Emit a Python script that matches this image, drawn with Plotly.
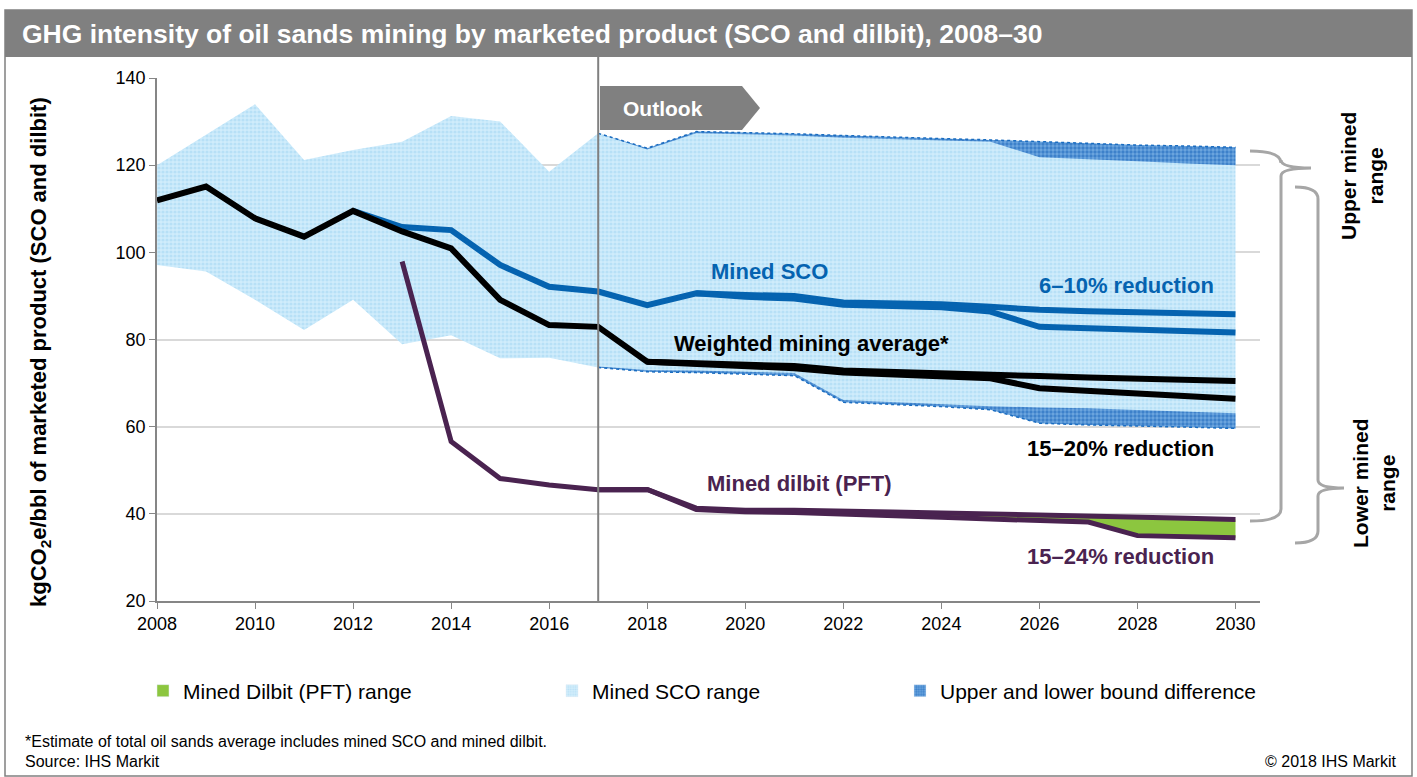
import plotly.graph_objects as go

# ---------------- data ----------------
years = list(range(2008, 2031))

# Mined SCO range (light blue band): upper and lower edges
sco_range_max = [120.0, 127.0, 134.0, 121.2, 123.5, 125.4, 131.3, 130.0, 118.5, 127.3, 123.9, 127.7,
                 127.5, 127.2, 126.8, 126.4, 126.1, 125.8, 125.4, 124.9, 124.6, 124.4, 124.1]
sco_range_min = [97.1, 95.6, 89.1, 82.2, 89.1, 78.9, 81.0, 75.7, 75.8, 73.6, 72.6, 72.4,
                 72.1, 71.7, 65.6, 65.1, 64.6, 63.9, 60.8, 60.4, 60.2, 59.9, 59.6]
# alternative bounds (upper/lower bound difference, outlook only)
sco_range_max_alt = [None] * 9 + [127.3, 123.6, 127.3, 127.1, 126.8, 126.3, 126.0, 125.7, 125.4,
                                  121.8, 121.4, 120.9, 120.4, 120.0]
sco_range_min_alt = [None] * 9 + [73.8, 73.0, 72.9, 72.6, 72.3, 66.1, 65.6, 65.1, 64.7,
                                  64.4, 64.2, 63.8, 63.4, 63.1]

mined_sco = [None] * 4 + [109.5, 105.8, 105.1, 97.1, 92.1, 91.0, 87.9, 90.6, 90.2, 90.0, 88.5,
                          88.3, 88.1, 87.5, 86.8, 86.5, 86.2, 85.9, 85.8]
mined_sco_low = [None] * 11 + [90.6, 89.8, 89.4, 88.0, 87.7, 87.4, 86.4, 82.9, 82.6, 82.2, 81.9, 81.6]

weighted = [111.9, 115.1, 107.8, 103.6, 109.5, 104.8, 100.9, 89.1, 83.3, 82.9, 74.9, 74.5,
            74.2, 73.9, 72.9, 72.5, 72.3, 72.0, 71.6, 71.3, 71.1, 70.8, 70.5]
weighted_low = [None] * 10 + [74.9, 74.4, 74.0, 73.4, 72.4, 71.9, 71.6, 71.1, 68.8, 68.2, 67.5, 67.0, 66.4]

dilbit = [None] * 5 + [97.9, 56.6, 48.1, 46.6, 45.5, 45.6, 41.3, 40.8, 40.8, 40.7, 40.4, 40.2,
                       40.0, 39.8, 39.5, 39.2, 39.0, 38.7]
dilbit_low = [None] * 9 + [45.5, 45.6, 41.0, 40.5, 40.3, 40.0, 39.6, 39.2, 38.8, 38.5, 38.1,
                           35.0, 34.8, 34.5]

y_ticks = [20, 40, 60, 80, 100, 120, 140]
x_ticks = list(range(2008, 2031, 2))
legend_names = ["Mined Dilbit (PFT) range", "Mined SCO range", "Upper and lower bound difference"]

# ---------------- styles ----------------
BLUE = "#0563b0"
PURPLE = "#4a2350"
GREEN = "#8cc63f"
GRAY = "#808080"
BRACE = "#a6a6a6"
FONT = "Liberation Sans, Arial, sans-serif"

W, H = 1417, 777
L, R, T, B = 157, 157, 78, 176
PW, PH = W - L - R, H - T - B


def px(xp):
    return (xp - L) / PW


def py(yp):
    return (H - B - yp) / PH


def seg(xs, ys):
    pts = [(a, b) for a, b in zip(xs, ys) if b is not None]
    return [p[0] for p in pts], [p[1] for p in pts]


light_pat = dict(shape=".", fgcolor="#9ed3f1", bgcolor="#d0ecfb", size=4, solidity=0.5)
dark_pat = dict(shape=".", fgcolor="#0b5cb5", bgcolor="#6ea7df", size=4, solidity=0.55)

fig = go.Figure()

# light blue SCO range
x1, y1 = seg(years, sco_range_min)
x2, y2 = seg(years, sco_range_max)
fig.add_trace(go.Scatter(x=x1, y=y1, mode="lines", line=dict(width=0), showlegend=False, hoverinfo="skip"))
fig.add_trace(go.Scatter(x=x2, y=y2, mode="lines", line=dict(width=0), fill="tonexty",
                         fillcolor="#c6e7f9", fillpattern=light_pat, showlegend=False, hoverinfo="skip"))

# dark band (upper)
xa, ya = seg(years, sco_range_max_alt)
xb, yb = seg(years, sco_range_max)
xb, yb = xb[9:], yb[9:]
fig.add_trace(go.Scatter(x=xa, y=ya, mode="lines", line=dict(width=0), showlegend=False, hoverinfo="skip"))
fig.add_trace(go.Scatter(x=xb, y=yb, mode="lines", line=dict(width=1.5, color="#1a6cc0", dash="dot"),
                         fill="tonexty", fillcolor="#3d84cc", fillpattern=dark_pat, showlegend=False,
                         hoverinfo="skip"))
# dark band (lower)
xa, ya = seg(years, sco_range_min)
xa, ya = xa[9:], ya[9:]
xb, yb = seg(years, sco_range_min_alt)
fig.add_trace(go.Scatter(x=xa, y=ya, mode="lines", line=dict(width=1.5, color="#1a6cc0", dash="dot"),
                         showlegend=False, hoverinfo="skip"))
fig.add_trace(go.Scatter(x=xb, y=yb, mode="lines", line=dict(width=0), fill="tonexty",
                         fillcolor="#3d84cc", fillpattern=dark_pat, showlegend=False, hoverinfo="skip"))

# green dilbit range
xa, ya = seg(years, dilbit_low)
xb, yb = seg(years, dilbit)
xb, yb = xb[4:], yb[4:]
fig.add_trace(go.Scatter(x=xa, y=ya, mode="lines", line=dict(width=0), showlegend=False, hoverinfo="skip"))
fig.add_trace(go.Scatter(x=xb, y=yb, mode="lines", line=dict(width=0), fill="tonexty",
                         fillcolor=GREEN, showlegend=False, hoverinfo="skip"))

# lines
for ys, col, w in [(mined_sco_low, BLUE, 6), (mined_sco, BLUE, 6),
                   (weighted_low, "#000000", 6), (weighted, "#000000", 6),
                   (dilbit_low, PURPLE, 5), (dilbit, PURPLE, 5)]:
    xs, yv = seg(years, ys)
    fig.add_trace(go.Scatter(x=xs, y=yv, mode="lines", line=dict(color=col, width=w),
                             showlegend=False, hoverinfo="skip"))

# legend entries (three separately positioned legends)
leg_markers = [dict(color=GREEN),
               dict(color="#c6e7f9", pattern=dict(shape=".", fgcolor="#9ed3f1", bgcolor="#d3edfb", size=3, solidity=0.4)),
               dict(color="#3d84cc", pattern=dict(shape=".", fgcolor="#0b5cb5", bgcolor="#6ea7df", size=3, solidity=0.5))]
for i, (nm, mk) in enumerate(zip(legend_names, leg_markers)):
    fig.add_trace(go.Bar(x=[None], y=[None], name=nm, marker=mk,
                         legend="legend" if i == 0 else f"legend{i + 1}", showlegend=True))

leg_common = dict(orientation="h", yanchor="middle", xanchor="left", y=py(691),
                  bgcolor="rgba(0,0,0,0)", font=dict(family=FONT, size=21, color="#000000"))

shapes = []
# overall border
shapes.append(dict(type="rect", xref="paper", yref="paper", x0=px(5), x1=px(1412), y0=py(776), y1=py(10),
                   line=dict(color=GRAY, width=1.5), fillcolor="rgba(0,0,0,0)", layer="below"))
# title bar
shapes.append(dict(type="rect", xref="paper", yref="paper", x0=px(5), x1=px(1412), y0=py(57), y1=py(10),
                   line=dict(width=0), fillcolor=GRAY))
# outlook divider
shapes.append(dict(type="line", xref="x", yref="paper", x0=2017, x1=2017, y0=0, y1=py(57),
                   line=dict(color=GRAY, width=2)))
# outlook arrow
pts = [(600, 86), (742, 86), (760, 108), (742, 130), (600, 130)]
path = "M" + " L".join(f"{px(a):.5f},{py(b):.5f}" for a, b in pts) + " Z"
shapes.append(dict(type="path", xref="paper", yref="paper", path=path, fillcolor=GRAY, line=dict(width=0)))


def brace(top, bot, xs, xm, xt, ytip):
    P = lambda a, b: f"{px(a):.5f},{py(b):.5f}"
    return ("M" + P(xs, top) + " Q" + P(xm, top) + " " + P(xm, top + 12) +
            " L" + P(xm, ytip - 8) + " Q" + P(xm, ytip) + " " + P(xt, ytip) +
            " Q" + P(xm, ytip) + " " + P(xm, ytip + 8) +
            " L" + P(xm, bot - 12) + " Q" + P(xm, bot) + " " + P(xs, bot))


shapes.append(dict(type="path", xref="paper", yref="paper", path=brace(151, 521, 1250, 1281, 1311, 168),
                   line=dict(color=BRACE, width=3)))
shapes.append(dict(type="path", xref="paper", yref="paper", path=brace(187, 543, 1295, 1318, 1344, 488),
                   line=dict(color=BRACE, width=3)))

ann = []


def lab(text, x, y, color, xanchor="center", size=22):
    ann.append(dict(text=f"<b>{text}</b>", x=x, y=y, xref="x", yref="y", showarrow=False,
                    xanchor=xanchor, yanchor="middle", font=dict(family=FONT, size=size, color=color)))


lab("Mined SCO", 2020.5, 95.7, BLUE)
lab("6–10% reduction", 2029.6, 92.3, BLUE, "right")
lab("Weighted mining average*", 2021.35, 79.0, "#000000")
lab("15–20% reduction", 2029.6, 54.9, "#000000", "right")
lab("Mined dilbit (PFT)", 2021.1, 47.0, PURPLE)
lab("15–24% reduction", 2029.6, 30.1, PURPLE, "right")


def pann(text, xp, yp, size, color="#000000", xanchor="center", angle=0):
    ann.append(dict(text=text, x=px(xp), y=py(yp), xref="paper", yref="paper", showarrow=False,
                    xanchor=xanchor, yanchor="middle", textangle=angle,
                    font=dict(family=FONT, size=size, color=color)))


pann("<b>Outlook</b>", 663, 108, 21, "white")
pann("<b>kgCO<sub>2</sub>e/bbl of marketed product (SCO and dilbit)</b>", 40, 352, 22, angle=-90)
pann("<b>Upper mined<br>range</b>", 1362, 176, 21, angle=-90)
pann("<b>Lower mined<br>range</b>", 1374, 483, 21, angle=-90)
pann("*Estimate of total oil sands average includes mined SCO and mined dilbit.", 23, 741, 16, xanchor="left")
pann("Source: IHS Markit", 23, 761, 16, xanchor="left")
pann("© 2018 IHS Markit", 1399, 761, 16, xanchor="right")

fig.update_layout(
    width=W, height=H,
    margin=dict(l=L, r=R, t=T, b=B, autoexpand=False),
    paper_bgcolor="white", plot_bgcolor="white",
    title=dict(text="<b>GHG intensity of oil sands mining by marketed product (SCO and dilbit), 2008–30</b>",
               x=22 / W, xanchor="left", y=1 - 34 / H, yanchor="middle", xref="container", yref="container",
               font=dict(family=FONT, size=26.5, color="white")),
    xaxis=dict(range=[2008, 2030.5], tickvals=x_ticks, showgrid=False, zeroline=False,
               showline=True, linecolor="#868686", linewidth=1.5, ticks="outside", ticklen=6,
               tickcolor="#868686", tickfont=dict(family=FONT, size=18, color="#000000"), fixedrange=True),
    yaxis=dict(range=[20, 140], tickvals=y_ticks, showgrid=True, gridcolor="#d9d9d9", gridwidth=1.5,
               zeroline=False, showline=True, linecolor="#868686", linewidth=1.5, ticks="outside",
               ticklen=6, tickcolor="#868686", tickfont=dict(family=FONT, size=18, color="#000000"),
               fixedrange=True),
    legend=dict(x=px(143), **leg_common),
    legend2=dict(x=px(552), **leg_common),
    legend3=dict(x=px(900), **leg_common),
    shapes=shapes, annotations=ann,
    showlegend=True,
)

fig.write_html("out.html", config={"displayModeBar": False},
               post_script="document.body.style.margin='0px';")
